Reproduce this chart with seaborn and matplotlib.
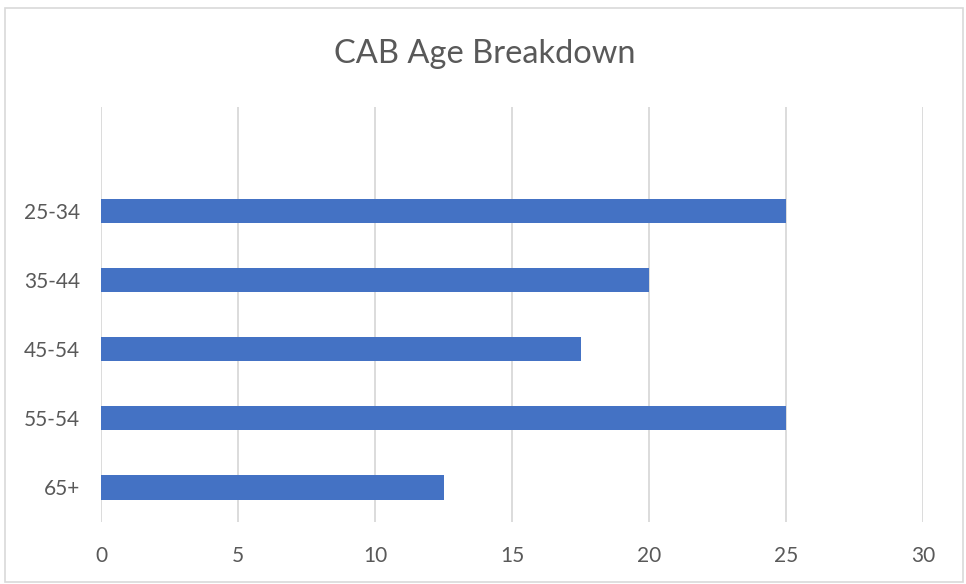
import matplotlib
matplotlib.use("Agg")
import matplotlib.pyplot as plt
import seaborn as sns
import pandas as pd
from matplotlib.patches import Rectangle

# data (top slot is an empty category)
age_groups = [" ", "25-34", "35-44", "45-54", "55-54", "65+"]
counts = [0, 25, 20, 17.5, 25, 12.5]
x_ticks = [0, 5, 10, 15, 20, 25, 30]

df = pd.DataFrame({"age": age_groups, "count": counts})

sns.set_theme(style="white")
plt.rcParams['font.family'] = ['Lato', 'DejaVu Sans']

fig = plt.figure(figsize=(9.66, 5.84), dpi=100)
ax = fig.add_axes([0.1046, 0.1062, 0.8509, 0.7106])

sns.barplot(data=df, x="count", y="age", order=age_groups, orient="h",
            color="#4472C4", saturation=1, width=0.35, linewidth=0,
            ax=ax, zorder=3)

ax.set_xlim(0, 30)
ax.set_ylim(5.5, -0.5)
ax.set_xticks(x_ticks)
ax.xaxis.grid(True, color="#D9D9D9", linewidth=1.3, zorder=0)
ax.set_axisbelow(True)
for s in ax.spines.values():
    s.set_visible(False)
ax.tick_params(axis="both", length=0, labelsize=15, labelcolor="#595959")
ax.tick_params(axis="x", pad=17)
ax.tick_params(axis="y", pad=15)
ax.set_xlabel("")
ax.set_ylabel("")

fig.text(0.502, 0.907, "CAB Age Breakdown", ha="center", va="center",
         fontsize=23.5, color="#595959")

# light outer border like the chart frame
fig.patches.append(Rectangle((0.005, 0.004), 0.992, 0.982, transform=fig.transFigure,
                             fill=False, edgecolor="#D9D9D9", linewidth=1.2))

fig.savefig("out.png", dpi=100)
